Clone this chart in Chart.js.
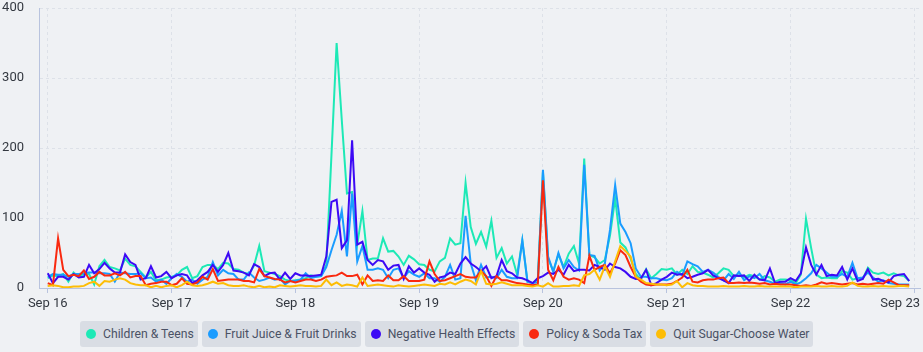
<!DOCTYPE html>
<html>
<head>
<meta charset="utf-8">
<script src="https://cdn.jsdelivr.net/npm/chart.js@4.4.1/dist/chart.umd.min.js"></script>
<style>
  body { margin: 0; background: #eff1f4; font-family: Roboto, sans-serif; }
  #wrap { position: relative; width: 923px; height: 312px; }
  #legend { position: absolute; left: 80px; top: 321px; display: flex; gap: 4px; }
  .item { display: flex; align-items: center; height: 26px; padding: 0 4px 0 6px; background: #d9dde4; border-radius: 3px; font-size: 12.2px; color: #4b5265; }
  .dot { width: 10px; height: 10px; border-radius: 50%; margin-right: 7px; }
</style>
</head>
<body>
<div id="wrap"><canvas id="chart"></canvas></div>
<div id="legend"></div>
<script>
// tick labels, one per day (hourly data from Sep 16 00:00)
const days = ['Sep 16', 'Sep 17', 'Sep 18', 'Sep 19', 'Sep 20', 'Sep 21', 'Sep 22', 'Sep 23'];
const seriesNames = ['Children & Teens', 'Fruit Juice & Fruit Drinks', 'Negative Health Effects', 'Policy & Soda Tax', 'Quit Sugar-Choose Water'];
const seriesColors = ['#1de9b6', '#1a9cff', '#3d0af5', '#f9290f', '#fdbd06'];

const childrenTeens = [
  14,18,17,20,9,22,16,20,20,5,31,40,30,28,25,42,33,31,23,15,23,11,12,15,
  16,18,26,30,14,17,30,33,33,27,36,35,27,26,22,20,32,60,24,22,20,17,12,10,
  11,12,14,18,16,17,33,190,350,240,135,137,62,110,40,42,42,71,52,53,45,33,46,41,
  34,33,26,24,38,43,71,62,64,150,87,63,80,59,96,43,57,35,45,19,68,9,7,12,
  166,42,24,48,30,49,60,35,185,47,44,35,40,75,128,65,58,42,20,12,27,14,20,27,
  26,28,19,26,20,31,23,22,19,15,21,28,26,17,18,15,19,17,12,17,15,9,12,12,
  11,7,19,99,57,19,14,15,14,14,24,22,12,14,13,29,22,20,22,18,21,18,17,10
];
const fruitJuice = [
  16,20,19,19,16,20,20,21,22,22,21,21,20,9,22,21,20,20,21,14,15,9,12,6,
  14,20,16,9,12,6,12,16,37,18,26,21,20,12,12,22,15,10,12,15,12,14,5,10,
  10,12,21,14,16,17,30,54,76,110,45,135,38,60,26,26,28,26,14,26,28,14,24,19,
  16,21,14,14,9,16,33,12,14,103,35,11,33,15,16,14,26,16,14,14,68,9,7,8,
  169,45,23,50,28,40,30,25,176,47,46,25,35,83,147,92,80,64,28,16,16,14,14,12,
  11,14,23,18,38,34,31,23,26,22,16,11,20,13,23,11,17,14,20,11,9,6,7,5,
  9,5,8,14,21,33,28,22,16,16,20,16,36,14,15,22,15,9,11,7,6,5,5,5
];
const healthEffects = [
  21,7,16,16,12,20,15,16,33,21,27,36,28,22,22,48,37,33,12,14,31,15,17,23,
  14,18,20,18,7,11,18,23,33,23,33,50,25,24,22,18,34,30,17,21,22,12,22,13,
  21,18,18,17,18,19,45,123,126,57,68,211,62,66,40,33,40,38,26,32,33,13,31,22,
  28,22,19,9,15,17,22,20,35,44,35,30,24,31,14,17,40,24,21,15,14,11,7,14,
  17,22,20,26,19,33,24,26,26,25,33,30,26,35,30,28,23,16,13,14,26,4,7,12,
  16,22,19,20,14,16,19,21,26,18,14,11,7,18,17,18,10,19,12,11,28,7,9,9,
  14,10,21,58,33,19,33,17,19,18,30,12,28,10,13,27,12,13,10,8,17,19,20,10
];
const sodaTax = [
  7,4,71,26,17,19,17,25,13,16,23,18,18,21,18,23,15,17,17,4,6,7,9,9,
  4,6,14,6,5,8,16,12,27,10,11,12,12,12,10,10,8,27,17,15,13,12,8,10,
  8,10,12,12,10,12,16,17,18,22,17,17,19,5,18,10,11,10,18,11,11,17,10,10,
  10,12,38,20,10,11,14,17,20,16,15,15,24,17,3,17,11,11,9,7,6,5,4,5,
  154,26,11,30,16,12,14,12,7,46,26,30,33,21,35,54,47,30,16,9,5,4,5,5,
  5,6,10,15,26,9,8,11,12,12,14,15,7,7,8,7,8,7,6,7,5,6,5,5,
  5,4,3,4,3,5,8,6,7,6,5,6,7,5,6,5,6,7,6,12,8,4,4,4
];
const quitSugar = [
  3,4,3,1,1,2,2,3,7,9,3,10,9,12,14,12,7,5,4,4,1,3,1,3,
  4,1,4,9,4,3,4,6,9,6,7,4,3,3,4,2,1,3,1,2,1,4,3,2,
  3,4,3,3,2,3,12,4,8,3,5,4,2,15,3,4,5,4,3,2,4,3,2,3,
  4,5,4,3,6,5,8,5,9,12,10,5,24,6,5,6,8,6,4,4,4,3,2,4,
  2,7,2,2,3,3,4,3,18,20,26,12,31,16,38,60,53,45,16,12,7,6,5,5,
  4,5,10,1,7,4,3,3,2,2,2,3,2,2,2,3,2,2,3,2,2,2,2,2,
  2,1,2,2,2,3,2,2,3,2,2,3,8,3,2,2,3,2,3,2,2,3,3,2
];
const seriesValues = [childrenTeens, fruitJuice, healthEffects, sodaTax, quitSugar];

// hours since Sep 16 00:00
const hours = childrenTeens.map((v, i) => i);

const axisColor = '#b8c3de';
const gridColor = '#dde1e8';
const tickFont = { family: 'Roboto', size: 13 };

// move the last x label inside the canvas, like the original
const lastLabelInside = {
  id: 'lastLabelInside',
  beforeDraw(chart) {
    const items = chart.scales.x.getLabelItems();
    const last = items[items.length - 1];
    if (last) {
      last.options.textAlign = 'right';
      last.options.translation[0] = chart.chartArea.right;
    }
  }
};

const ctx = document.getElementById('chart');
new Chart(ctx, {
  type: 'line',
  data: {
    labels: hours,
    datasets: seriesNames.map((name, i) => ({
      label: name,
      data: seriesValues[i],
      borderColor: seriesColors[i],
      backgroundColor: seriesColors[i],
      borderWidth: 2,
      pointRadius: 0,
      tension: 0,
      order: seriesNames.length - i
    }))
  },
  options: {
    responsive: true,
    maintainAspectRatio: false,
    animation: false,
    layout: { padding: { top: 8, right: 3, left: 0, bottom: 0 } },
    plugins: { legend: { display: false }, tooltip: { enabled: false } },
    scales: {
      x: {
        type: 'linear',
        min: -1.7,
        max: 169.1,
        grid: { color: gridColor, tickColor: axisColor, tickLength: 5 },
        border: { color: axisColor, dash: [3, 3] },
        ticks: {
          stepSize: 24,
          includeBounds: false,
          maxRotation: 0,
          padding: 3,
          color: '#333840',
          font: tickFont,
          callback: (v) => days[v / 24]
        },
        afterFit(scale) {
          scale.height = 24;
          scale.paddingLeft = 0;
          scale.paddingRight = 0;
        }
      },
      y: {
        min: 0,
        max: 400,
        grid: { color: gridColor, drawTicks: false },
        border: { color: axisColor, dash: [3, 3] },
        ticks: { stepSize: 100, padding: 15, color: '#333840', font: tickFont },
        afterFit(scale) {
          scale.width = 39;
          scale.paddingTop = 0;
          scale.paddingBottom = 0;
        }
      }
    }
  },
  plugins: [lastLabelInside]
});

const legend = document.getElementById('legend');
seriesNames.forEach((name, i) => {
  const item = document.createElement('div');
  item.className = 'item';
  item.innerHTML = `<span class="dot" style="background:${seriesColors[i]}"></span>${name}`;
  legend.appendChild(item);
});
</script>
</body>
</html>
